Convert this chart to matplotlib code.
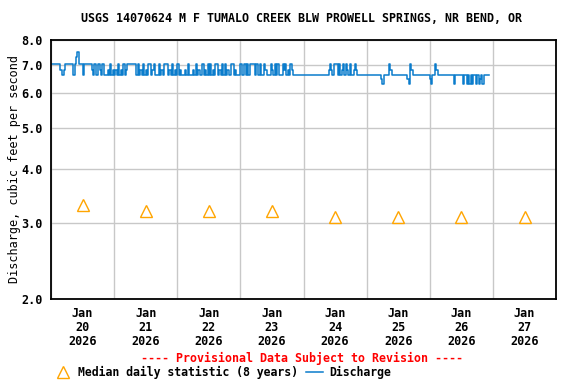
import datetime as dt
import matplotlib
matplotlib.use('Agg')
import matplotlib.pyplot as plt
import matplotlib.dates as mdates
from matplotlib.lines import Line2D
from matplotlib.ticker import FixedLocator, FixedFormatter, NullLocator

plt.rcParams['font.family'] = ['DejaVu Sans Mono']
plt.rcParams['font.weight'] = 'bold'

title = 'USGS 14070624 M F TUMALO CREEK BLW PROWELL SPRINGS, NR BEND, OR'

# discharge steps (cfs), one letter per step
levels = {'a': 7.02, 'b': 6.80, 'c': 6.63, 'd': 6.47, 'e': 6.32, 's': 7.29, 't': 7.50}

# one string per day, each letter = a 30-minute reading from midnight
day_codes = [
    'aaaaaaabccbaaaaaacastaaacaaaaaabcaccabcacccbcacb',   # Jan 20
    'cbcacbcacbaaaaaaacacbcacbcaacbacccacbcaaacbcacbc',   # Jan 21
    'acbcccbcacccbcacbccacbcacacbcaacbcacacbccaacbccc',   # Jan 22
    'accacacaaaacaccaccabcccabcacacccabacbcabccccccc',    # Jan 23
    'cccccccccccccccccccbabcaaacacbacabcaccbabccccc',     # Jan 24
    'cccccccccccdeccccabccccccccccccdeabccccccccccccc',   # Jan 25
    'deccabccccccccccccecccccceccecececcecedceccccc',     # Jan 26
]
start_day = dt.datetime(2026, 1, 20)

median_days = [dt.datetime(2026, 1, d, 12) for d in range(20, 28)]
median_vals = [3.3, 3.2, 3.2, 3.2, 3.1, 3.1, 3.1, 3.1]

y_ticks = [2.0, 3.0, 4.0, 5.0, 6.0, 7.0, 8.0]

times, flows = [], []
for d, codes in enumerate(day_codes):
    for i, c in enumerate(codes):
        times.append(start_day + dt.timedelta(days=d, minutes=30 * i))
        flows.append(levels[c])

fig = plt.figure(figsize=(5.76, 3.84), dpi=100)
ax = fig.add_axes([0.0885, 0.221, 0.877, 0.676])

ax.plot(times, flows, color='#0a7ccc', lw=1.1, drawstyle='steps-post', zorder=3)
ax.plot(median_days, median_vals, ls='none', marker='^', ms=8, mfc='none',
        mec='#ffa500', mew=1.0, zorder=4)

ax.set_yscale('log')
ax.set_ylim(2.0, 8.0)
ax.yaxis.set_major_locator(FixedLocator(y_ticks))
ax.yaxis.set_major_formatter(FixedFormatter(['%.1f' % v for v in y_ticks]))
ax.yaxis.set_minor_locator(NullLocator())

ax.set_xlim(start_day, start_day + dt.timedelta(days=8))
ax.xaxis.set_major_locator(mdates.DayLocator())
ax.xaxis.set_major_formatter(plt.NullFormatter())
ax.xaxis.set_minor_locator(mdates.HourLocator(byhour=[12]))
ax.xaxis.set_minor_formatter(mdates.DateFormatter('%b\n%d\n%Y'))

ax.tick_params(axis='both', which='both', length=0, labelsize=8.5)
ax.tick_params(axis='x', which='minor', pad=6)
ax.tick_params(axis='y', pad=6)
for lab in ax.xaxis.get_minorticklabels():
    lab.set_linespacing(1.1)

ax.grid(True, which='major', color='#c8c8c8', lw=1.0, zorder=0)
for s in ax.spines.values():
    s.set_linewidth(1.3)
    s.set_zorder(5)

ax.set_ylabel('Discharge, cubic feet per second', fontsize=8.5, labelpad=0)
fig.text(0.524, 0.952, title, ha='center', va='center', fontsize=8.35)
fig.text(0.524, 0.067, '---- Provisional Data Subject to Revision ----',
         ha='center', va='center', fontsize=8.35, color='red')

handles = [
    Line2D([], [], ls='none', marker='^', ms=8, mfc='none', mec='#ffa500', mew=1.0),
    Line2D([], [], color='#0a7ccc', lw=1.1),
]
fig.legend(handles, ['Median daily statistic (8 years)', 'Discharge'],
           loc='center left', bbox_to_anchor=(0.095, 0.031), ncol=2, frameon=False,
           prop={'size': 8.3, 'weight': 'bold'}, handlelength=1.4, handletextpad=0.6,
           columnspacing=0.75, borderpad=0, borderaxespad=0)

fig.savefig('out.png', dpi=100)
